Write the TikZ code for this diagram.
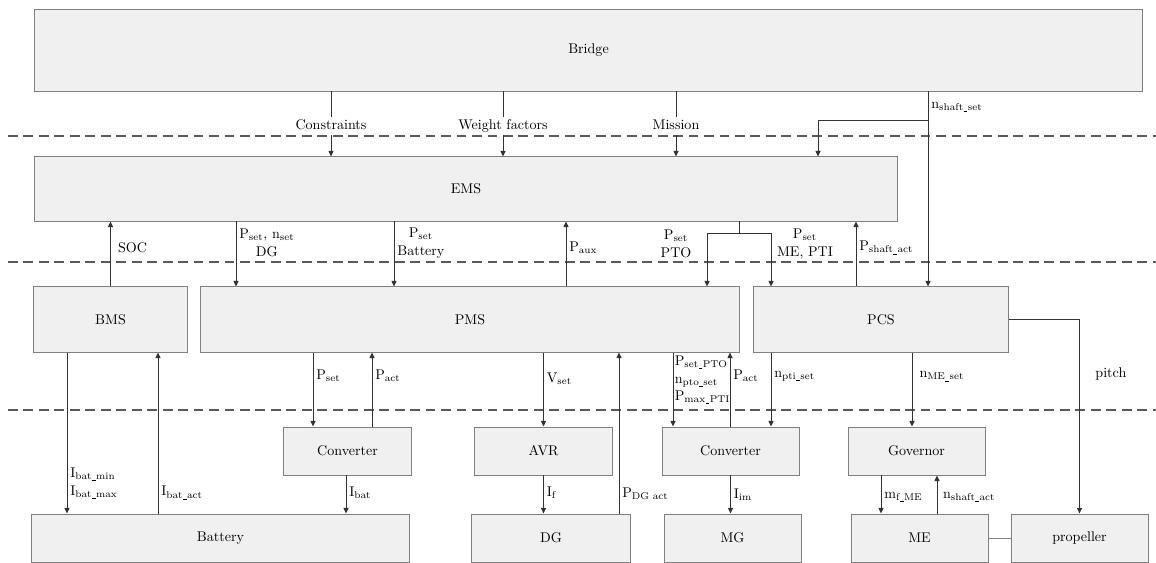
\documentclass[tikz,border=0pt]{standalone}
\usepackage{xcolor}
\usetikzlibrary{arrows.meta,calc}
\definecolor{boxfill}{HTML}{F0F0F0}
\definecolor{boxline}{HTML}{808080}
\definecolor{arrline}{HTML}{333333}
\definecolor{sepline}{HTML}{5A5A5A}
\newcommand{\us}{\kern0.04em\rule[-0.2ex]{0.38em}{0.06ex}\kern0.04em}

\begin{document}
\begin{tikzpicture}[x=0.025cm,y=-0.025cm,font=\fontsize{10}{12}\selectfont,
  box/.style={draw=boxline,fill=boxfill,line width=0.7pt,inner sep=0pt,minimum height=1.2cm},
  lbl/.style={align=center,inner sep=2pt,font=\fontsize{10}{12.5}\selectfont},
  toplbl/.style={lbl,fill=white,text height=1.6ex,text depth=0.5ex,yshift=-1.5pt},
  arr/.style={-{Triangle[length=4pt,width=3.6pt]},draw=arrline,line width=0.7pt},
  sep/.style={draw=sepline,dash pattern=on 7pt off 4pt,line width=1pt}]
\useasboundingbox (0,0) rectangle (1156,563);
\draw[sep] (8,136) -- (1156,136);
\draw[sep] (8,262) -- (1156,262);
\draw[sep] (8,410) -- (1156,410);
\node[box,minimum width=27.675cm,minimum height=2.025cm] (bridge) at (588.5,50.5) {Bridge};
\node[box,minimum width=21.55cm,minimum height=1.6cm] (ems) at (466,189) {EMS};
\node[box,minimum width=3.825cm,minimum height=1.625cm] (bms) at (110.5,319.5) {BMS};
\node[box,minimum width=13.45cm,minimum height=1.625cm] (pms) at (470,319.5) {PMS};
\node[box,minimum width=6.35cm,minimum height=1.625cm] (pcs) at (881,319.5) {PCS};
\node[box,minimum width=3.175cm] (convbat) at (347.5,451) {Converter};
\node[box,minimum width=3.425cm] (avr) at (543.5,451) {AVR};
\node[box,minimum width=3.425cm] (convmg) at (730.5,451) {Converter};
\node[box,minimum width=3.425cm] (gov) at (916.5,451) {Governor};
\node[box,minimum width=9.425cm] (battery) at (220.5,538) {Battery};
\node[box,minimum width=3.95cm] (dg) at (551,538) {DG};
\node[box,minimum width=3.425cm] (mg) at (732.5,538) {MG};
\node[box,minimum width=3.425cm] (me) at (919.5,538) {ME};
\node[box,minimum width=3.425cm] (prop) at (1079.5,538) {propeller};
\draw[arr] (bridge.south -| 331,0) -- node[toplbl] {Constraints} (ems.north -| 331,0);
\draw[arr] (bridge.south -| 503,0) -- node[toplbl] {Weight factors} (ems.north -| 503,0);
\draw[arr] (bridge.south -| 676,0) -- node[toplbl] {Mission} (ems.north -| 676,0);
\coordinate (nsplit) at (928,120);
\draw[arr] (bridge.south -| nsplit) -- node[lbl,right,pos=0.08] {n\textsubscript{shaft\us set}} (pcs.north -| nsplit);
\draw[arr] (nsplit) -| (ems.north -| 818,0);
\draw[arr] (bms.north) -- node[lbl,right,pos=0.6,xshift=3pt] {SOC} (bms.north |- ems.south);
\draw[arr] (ems.south -| 236,0) -- node[lbl,right,pos=0.33] {P\textsubscript{set}, n\textsubscript{set}\\DG} (pms.north -| 236,0);
\draw[arr] (ems.south -| 394,0) -- node[lbl,right,pos=0.33] {P\textsubscript{set}\\Battery} (pms.north -| 394,0);
\draw[arr] (pms.north -| 566,0) -- node[lbl,right,pos=0.6] {P\textsubscript{aux}} (ems.south -| 566,0);
\coordinate (ptosplit) at (739,233);
\draw[arr,-] (ems.south -| ptosplit) -- (ptosplit);
\draw[arr] (ptosplit) -| (pms.north -| 707,0);
\draw[arr] (ptosplit) -| (pcs.north -| 771,0);
\node[lbl] (ptolbl) at (676,244) {P\textsubscript{set}\\PTO};
\node[lbl] (melbl) at (805,244) {P\textsubscript{set}\\ME, PTI};
\draw[arr] (pcs.north -| 856,0) -- node[lbl,right,pos=0.6] {P\textsubscript{shaft\us act}} (ems.south -| 856,0);
\draw[arr] (bms.south -| 67,0) -- node[lbl,right,pos=0.81,align=left] {I\textsubscript{bat\us min}\\I\textsubscript{bat\us max}} (battery.north -| 67,0);
\draw[arr] (battery.north -| 158,0) -- node[lbl,right,pos=0.13] {I\textsubscript{bat\us act}} (bms.south -| 158,0);
\draw[arr] (pms.south -| 313,0) -- node[lbl,right,pos=0.31] {P\textsubscript{set}} (convbat.north -| 313,0);
\draw[arr] (convbat.north -| 372,0) -- node[lbl,right,pos=0.69] {P\textsubscript{act}} (pms.south -| 372,0);
\draw[arr] (convbat.south -| 346,0) -- node[lbl,right,pos=0.46] {I\textsubscript{bat}} (battery.north -| 346,0);
\draw[arr] (pms.south -| avr.north) -- node[lbl,right,pos=0.35] {V\textsubscript{set}} (avr.north);
\draw[arr] (avr.south) -- node[lbl,right,pos=0.46] {I\textsubscript{f}} (avr.south |- dg.north);
\draw[arr] (dg.north -| 619,0) -- node[lbl,right,pos=0.12] {P\textsubscript{DG act}} (pms.south -| 619,0);
\draw[arr] (pms.south -| 673,0) -- node[lbl,right,pos=0.37,align=left,inner sep=1pt] {P\textsubscript{set\us PTO}\\n\textsubscript{pto\us set}\\P\textsubscript{max\us PTI}} (convmg.north -| 673,0);
\draw[arr] (convmg.north -| 730,0) -- node[lbl,right,pos=0.69] {P\textsubscript{act}} (pms.south -| 730,0);
\draw[arr] (pcs.south -| 771,0) -- node[lbl,right,pos=0.32] {n\textsubscript{pti\us set}} (convmg.north -| 771,0);
\draw[arr] (convmg.south) -- node[lbl,right,pos=0.5] {I\textsubscript{im}} (convmg.south |- mg.north);
\draw[arr] (pcs.south -| 912,0) -- node[lbl,right,pos=0.32,xshift=3pt] {n\textsubscript{ME\us set}} (gov.north -| 912,0);
\draw[arr] (gov.south -| 881,0) -- node[lbl,right,pos=0.56] {m\textsubscript{f\us ME}} (me.north -| 881,0);
\draw[arr] (me.north -| 937,0) -- node[lbl,right,pos=0.44,xshift=2pt] {n\textsubscript{shaft\us act}} (gov.south -| 937,0);
\draw[arr] (pcs.east) -| node[lbl,right,pos=0.64,xshift=9pt] {pitch} (prop.north);
\draw[draw=boxline,line width=0.7pt] (me.east) -- (prop.west);
\end{tikzpicture}
\end{document}
